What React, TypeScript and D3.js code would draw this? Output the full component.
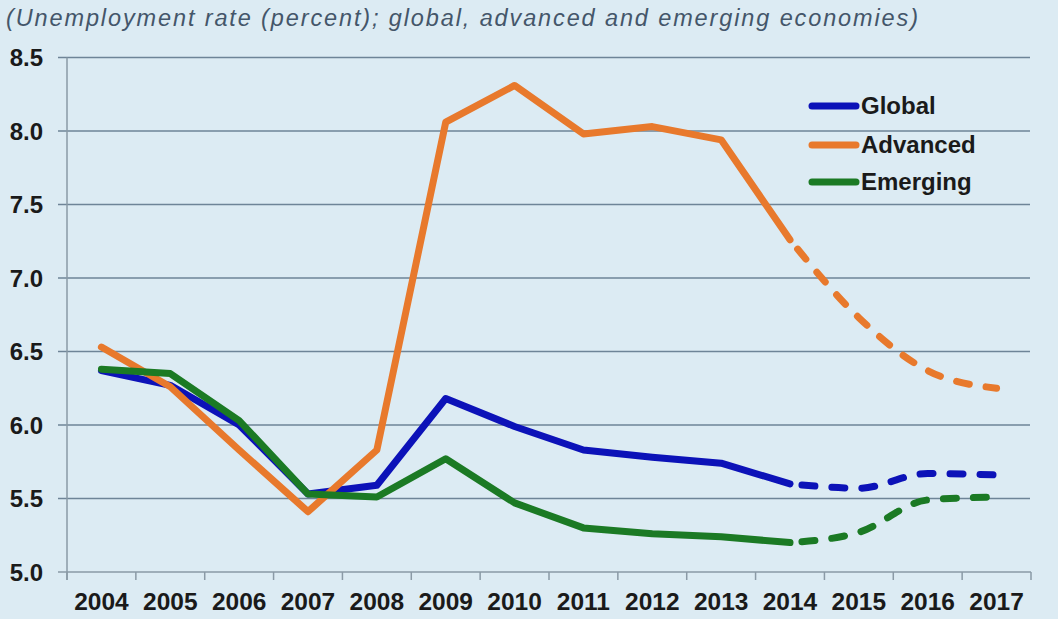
import React from "react";
import * as d3 from "d3";

const years = ["2004","2005","2006","2007","2008","2009","2010","2011","2012","2013","2014","2015","2016","2017"];
const globalRate = [6.37, 6.27, 6.0, 5.53, 5.59, 6.18, 5.99, 5.83, 5.78, 5.74, 5.6, 5.57, 5.67, 5.66];
const advancedRate = [6.53, 6.26, 5.83, 5.41, 5.83, 8.06, 8.31, 7.98, 8.03, 7.94, 7.26, 6.73, 6.37, 6.25];
const emergingRate = [6.38, 6.35, 6.03, 5.53, 5.51, 5.77, 5.47, 5.3, 5.26, 5.24, 5.2, 5.27, 5.49, 5.51];
const yTicks = [5.0, 5.5, 6.0, 6.5, 7.0, 7.5, 8.0, 8.5];
const projectionStart = 10; // index of 2014
const seriesNames = ["Global", "Advanced", "Emerging"];
const title = "(Unemployment rate (percent); global, advanced and emerging economies)";

const W = 1058, H = 619;
const colors = ["#0c12b8", "#e8792c", "#1b7a24"];

export default function App() {
  const x = d3.scaleBand().domain(years).range([67, 1031]);
  const y = d3.scaleLinear().domain([5, 8.5]).range([572, 57.5]);
  const cx = (i: number) => (x(years[i]) as number) + x.bandwidth() / 2;
  const solid = d3.line<number>().x((_, i) => cx(i)).y(v => y(v)).curve(d3.curveLinear);
  const series = [globalRate, advancedRate, emergingRate];
  const dashed = (vals: number[]) =>
    d3.line<[number, number]>().x(d => cx(d[0])).y(d => y(d[1])).curve(d3.curveMonotoneX)(
      vals.map((v, i) => [i, v] as [number, number]).slice(projectionStart)
    );
  const font = "Arial, 'Liberation Sans', sans-serif";
  const legendY = [106, 145, 182];
  return (
    <div style={{ position: "absolute", left: 0, top: 0 }}>
      <svg width={W} height={H} style={{ display: "block" }}>
        <rect x={0} y={0} width={W} height={H} fill="#dcebf3" />
        <text x={6} y={26} fontFamily={font} fontStyle="italic" fontSize={23.5} fill="#44566a" textLength={912} lengthAdjust="spacing">{title}</text>
        {yTicks.map(t => (
          <g key={t}>
            <line x1={58} x2={t === 5 ? 1031 : 1030} y1={y(t)} y2={y(t)} stroke={t === 5 ? "#8a9aa6" : "#6e8497"} strokeWidth={1.5} />
            <text x={43} y={y(t) + 8.5} textAnchor="end" fontFamily={font} fontWeight="bold" fontSize={24} fill="#1a1a1a">{t.toFixed(1)}</text>
          </g>
        ))}
        <line x1={67} x2={67} y1={57.5} y2={580} stroke="#8a9aa6" strokeWidth={1.5} />
        {years.map((yr) => (
          <line key={"t" + yr} x1={x(yr) as number} x2={x(yr) as number} y1={572} y2={580} stroke="#8a9aa6" strokeWidth={1.5} />
        ))}
        <line x1={1031} x2={1031} y1={572} y2={580} stroke="#8a9aa6" strokeWidth={1.5} />
        {years.map((yr, i) => (
          <text key={yr} x={cx(i)} y={610} textAnchor="middle" fontFamily={font} fontWeight="bold" fontSize={24.5} fill="#1a1a1a">{yr}</text>
        ))}
        {series.map((vals, s) => (
          <g key={s}>
            <path d={solid(vals.slice(0, projectionStart + 1)) as string} fill="none" stroke={colors[s]} strokeWidth={7} strokeLinejoin="round" strokeLinecap="round" />
            <path d={dashed(vals) as string} fill="none" stroke={colors[s]} strokeWidth={7} strokeLinecap="round" strokeDasharray="13 17" strokeDashoffset={-12} />
          </g>
        ))}
        {seriesNames.map((n, s) => (
          <g key={n}>
            <line x1={812} x2={856} y1={legendY[s]} y2={legendY[s]} stroke={colors[s]} strokeWidth={7} strokeLinecap="round" />
            <text x={861} y={legendY[s] + 8} fontFamily={font} fontWeight="bold" fontSize={24} fill="#1a1a1a">{n}</text>
          </g>
        ))}
      </svg>
    </div>
  );
}
